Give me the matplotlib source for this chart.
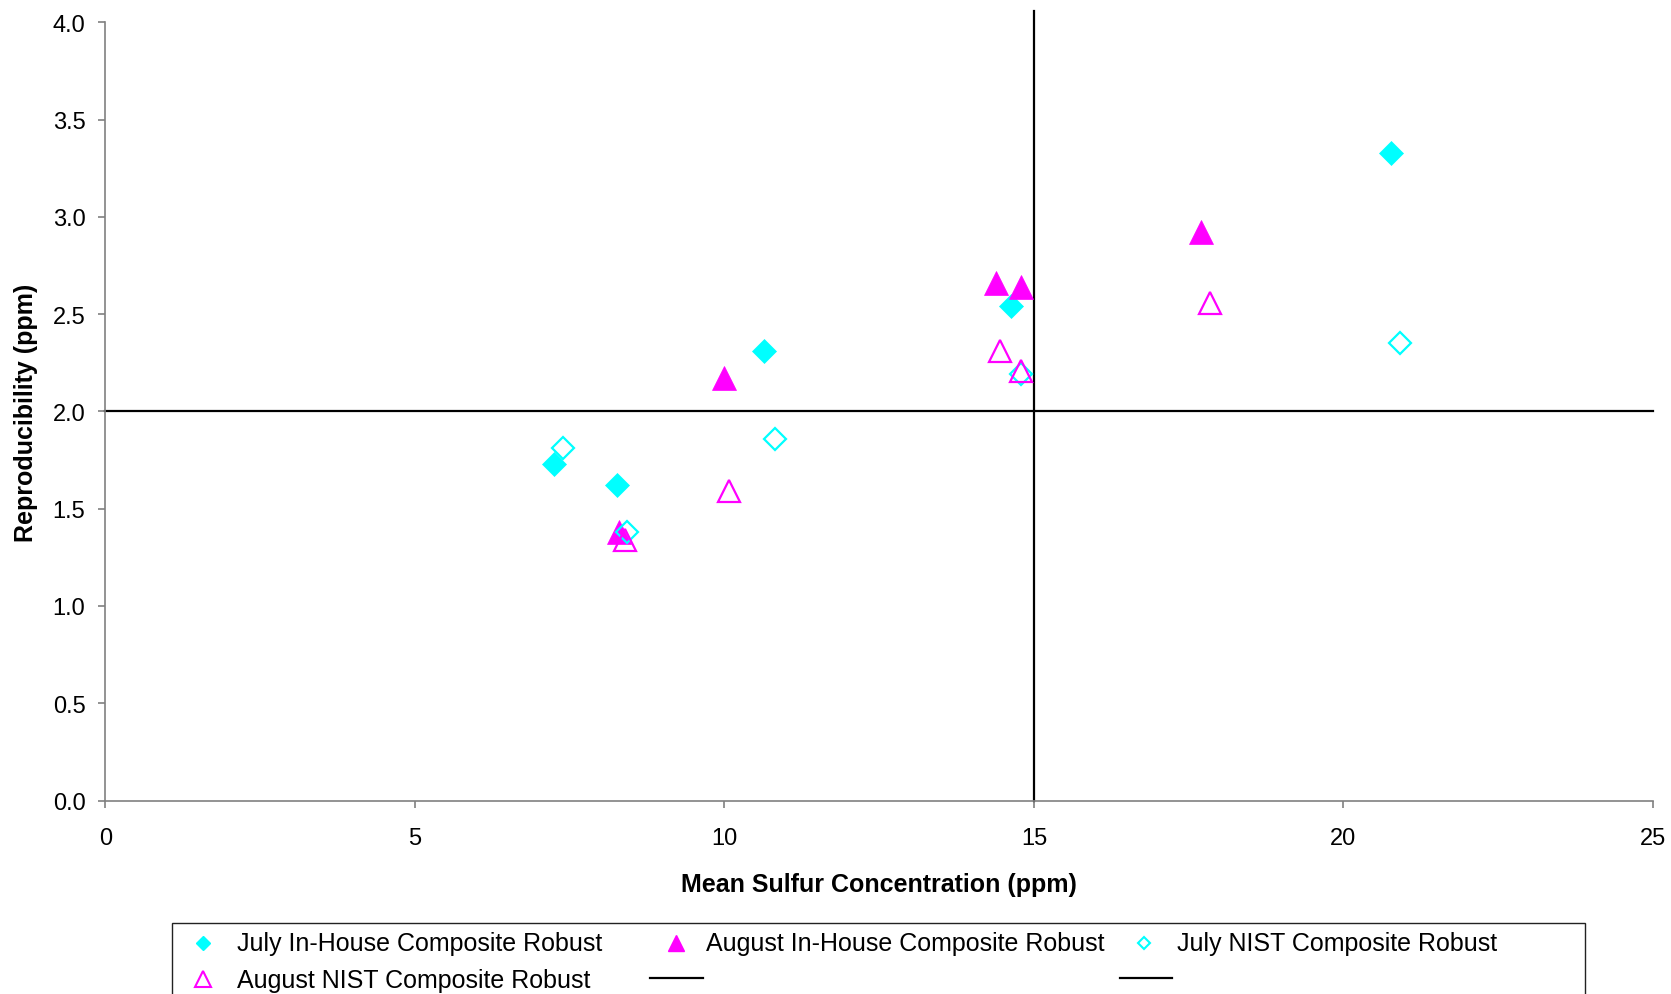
import matplotlib
matplotlib.use("Agg")
import matplotlib.pyplot as plt
from matplotlib.lines import Line2D
from matplotlib.patches import Rectangle

plt.rcParams['font.family'] = ['Liberation Sans', 'DejaVu Sans']

july_inhouse_x = [7.25, 8.26, 10.64, 14.63, 20.76]
july_inhouse_y = [1.73, 1.62, 2.31, 2.54, 3.33]
aug_inhouse_x = [8.30, 10.00, 14.39, 14.79, 17.70]
aug_inhouse_y = [1.38, 2.17, 2.66, 2.64, 2.92]
july_nist_x = [7.40, 8.42, 10.81, 14.79, 20.92]
july_nist_y = [1.81, 1.38, 1.86, 2.19, 2.35]
aug_nist_x = [8.39, 10.07, 14.45, 14.79, 17.85]
aug_nist_y = [1.34, 1.59, 2.31, 2.21, 2.56]

hline_x = [0, 25]
hline_y = [2.0, 2.0]
vline_x = [15, 15]
vline_y = [0, 4.06]

xticks = [0, 5, 10, 15, 20, 25]
yticks = [0.0, 0.5, 1.0, 1.5, 2.0, 2.5, 3.0, 3.5, 4.0]

legend_labels = ['July In-House Composite Robust', 'August In-House Composite Robust',
                 'July NIST Composite Robust', 'August NIST Composite Robust']

CY = '#00FFFF'
MG = '#FF00FF'
W, H = 1671, 995

fig = plt.figure(figsize=(W / 100, H / 100), dpi=100)
ax = fig.add_axes([0.06308, 0.19447, 0.92615, 0.78201])

ax.plot(july_inhouse_x, july_inhouse_y, linestyle='none', marker='D', ms=12.5,
        mfc=CY, mec=CY, mew=0.5, clip_on=False, zorder=3)
ax.plot(aug_inhouse_x, aug_inhouse_y, linestyle='none', marker='^', ms=17,
        mfc=MG, mec=MG, mew=0.5, clip_on=False, zorder=3)
ax.plot(july_nist_x, july_nist_y, linestyle='none', marker='D', ms=11.5,
        mfc='none', mec=CY, mew=1.6, clip_on=False, zorder=3)
ax.plot(aug_nist_x, aug_nist_y, linestyle='none', marker='^', ms=16,
        mfc='none', mec=MG, mew=1.6, clip_on=False, zorder=3)
ax.plot(hline_x, hline_y, color='black', lw=1.6, clip_on=False, zorder=2)
ax.plot(vline_x, vline_y, color='black', lw=1.6, clip_on=False, zorder=2)

ax.set_xlim(0, 25)
ax.set_ylim(0, 4)
ax.set_xticks(xticks)
ax.set_xticklabels([str(t) for t in xticks])
ax.set_yticks(yticks)
ax.set_yticklabels([f"{t:.1f}" for t in yticks])

for s in ['top', 'right']:
    ax.spines[s].set_visible(False)
for s in ['left', 'bottom']:
    ax.spines[s].set_color('#808080')
    ax.spines[s].set_linewidth(1.2)
ax.tick_params(axis='both', direction='out', length=5, width=1.2, color='#808080',
               labelsize=17)
ax.tick_params(axis='y', pad=9.4)
ax.tick_params(axis='x', pad=14)

ax.set_xlabel('Mean Sulfur Concentration (ppm)', fontsize=18, fontweight='bold')
ax.set_ylabel('Reproducibility (ppm)', fontsize=18, fontweight='bold')
ax.xaxis.set_label_coords(0.4997, -0.0916)
ax.yaxis.set_label_coords(-0.0434, 0.5)


def fx(px):
    return px / W


def fy(py):
    return 1 - py / H


# Legend (laid out as in the reference, frame runs off the bottom)
fig.add_artist(Rectangle((fx(171.6), fy(1005)), fx(1585) - fx(171.6), fy(923.5) - fy(1005),
                         transform=fig.transFigure, fill=False, edgecolor='#222222',
                         lw=1.0, clip_on=False))

entries = [
    # (marker x, marker y, text x, text baseline, style)
    (203, 944, 237, 951.5, dict(marker='D', ms=6.8, mfc=CY, mec=CY)),
    (676, 944, 706, 951.5, dict(marker='^', ms=11.5, mfc=MG, mec=MG)),
    (1144, 944, 1177, 951.5, dict(marker='D', ms=6.5, mfc='none', mec=CY, mew=1.5)),
    (203, 980, 237, 988, dict(marker='^', ms=11.5, mfc='none', mec=MG, mew=1.5)),
]
for (mx, my, tx, ty, st), lab in zip(entries, legend_labels):
    fig.add_artist(Line2D([fx(mx)], [fy(my)], transform=fig.transFigure,
                          linestyle='none', **st))
    fig.text(fx(tx), fy(ty), lab, fontsize=18, ha='left', va='baseline')

for x0, x1 in [(650, 703), (1120, 1172)]:
    fig.add_artist(Line2D([fx(x0), fx(x1)], [fy(979.3), fy(979.3)],
                          transform=fig.transFigure, color='black', lw=1.6))

fig.savefig('out.png', dpi=100)
